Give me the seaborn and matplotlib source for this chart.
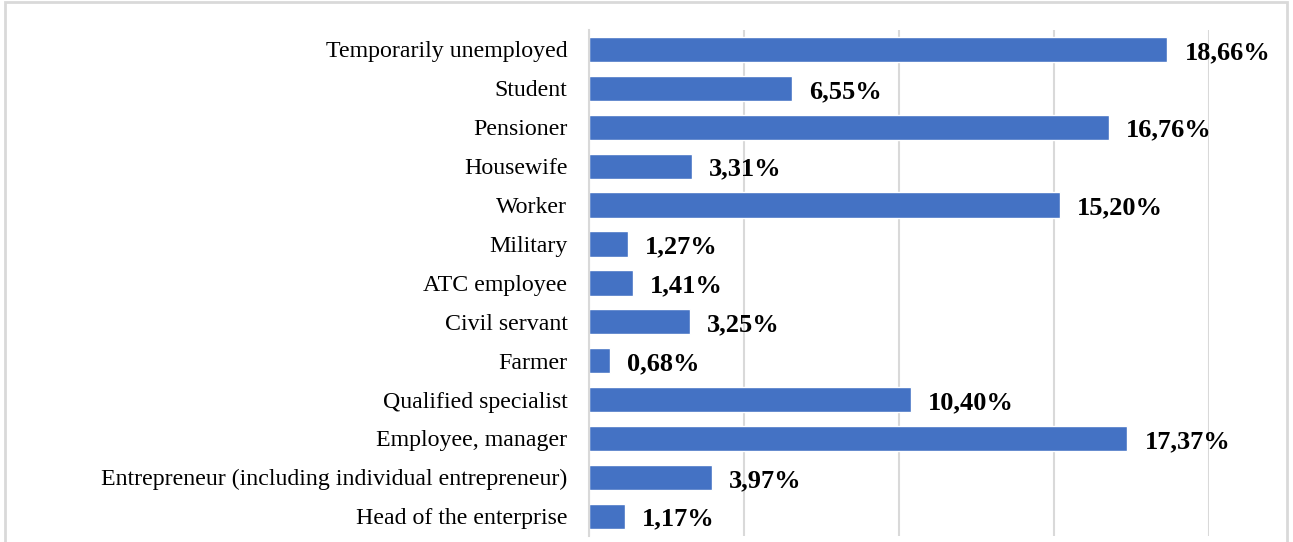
import pandas as pd
import matplotlib.pyplot as plt
import seaborn as sns
from matplotlib.patches import Rectangle

categories = ['Temporarily unemployed', 'Student', 'Pensioner', 'Housewife', 'Worker',
              'Military', 'ATC employee', 'Civil servant', 'Farmer', 'Qualified specialist',
              'Employee, manager', 'Entrepreneur (including individual entrepreneur)',
              'Head of the enterprise']
shares = [18.66, 6.55, 16.76, 3.31, 15.20, 1.27, 1.41, 3.25, 0.68, 10.40, 17.37, 3.97, 1.17]

df = pd.DataFrame({'Category': categories, 'Share': shares})

sns.set_style('white')
plt.rcParams['font.family'] = ['Liberation Serif', 'DejaVu Serif']
plt.rcParams['text.color'] = 'black'
plt.rcParams['ytick.color'] = 'black'

fig = plt.figure(figsize=(12.93, 5.42), dpi=100)
ax = fig.add_axes([0.4555, 0.0116, 0.4795, 0.933])

sns.barplot(data=df, x='Share', y='Category', orient='h', color='#4472C4',
            saturation=1, width=0.65, ax=ax)

ax.set_xlim(0, 20)
ax.set_ylim(12.5, -0.5)
ax.set_xticks([0, 5, 10, 15, 20])
ax.xaxis.grid(True, color='#d9d9d9', linewidth=1.5)
ax.set_axisbelow(True)
ax.tick_params(axis='x', length=0, labelbottom=False)
ax.tick_params(axis='y', length=0, labelsize=17.2, pad=15.5, labelcolor='black')
ax.set_xlabel('')
ax.set_ylabel('')
for s in ['top', 'right', 'bottom']:
    ax.spines[s].set_visible(False)
ax.spines['left'].set_color('#d9d9d9')
ax.spines['left'].set_linewidth(1.5)

for i, v in enumerate(shares):
    ax.annotate(f"{v:.2f}%".replace('.', ','), xy=(v, i), xytext=(17, -3),
                textcoords='offset pixels', ha='left', va='center',
                fontsize=19, fontweight='bold', color='black')

fig.patches.append(Rectangle((5 / 1293, -0.1), 1282 / 1293, 1.1 - 2 / 542,
                             transform=fig.transFigure, fill=False,
                             edgecolor='#d9d9d9', linewidth=2))

fig.savefig('out.png', dpi=100)
